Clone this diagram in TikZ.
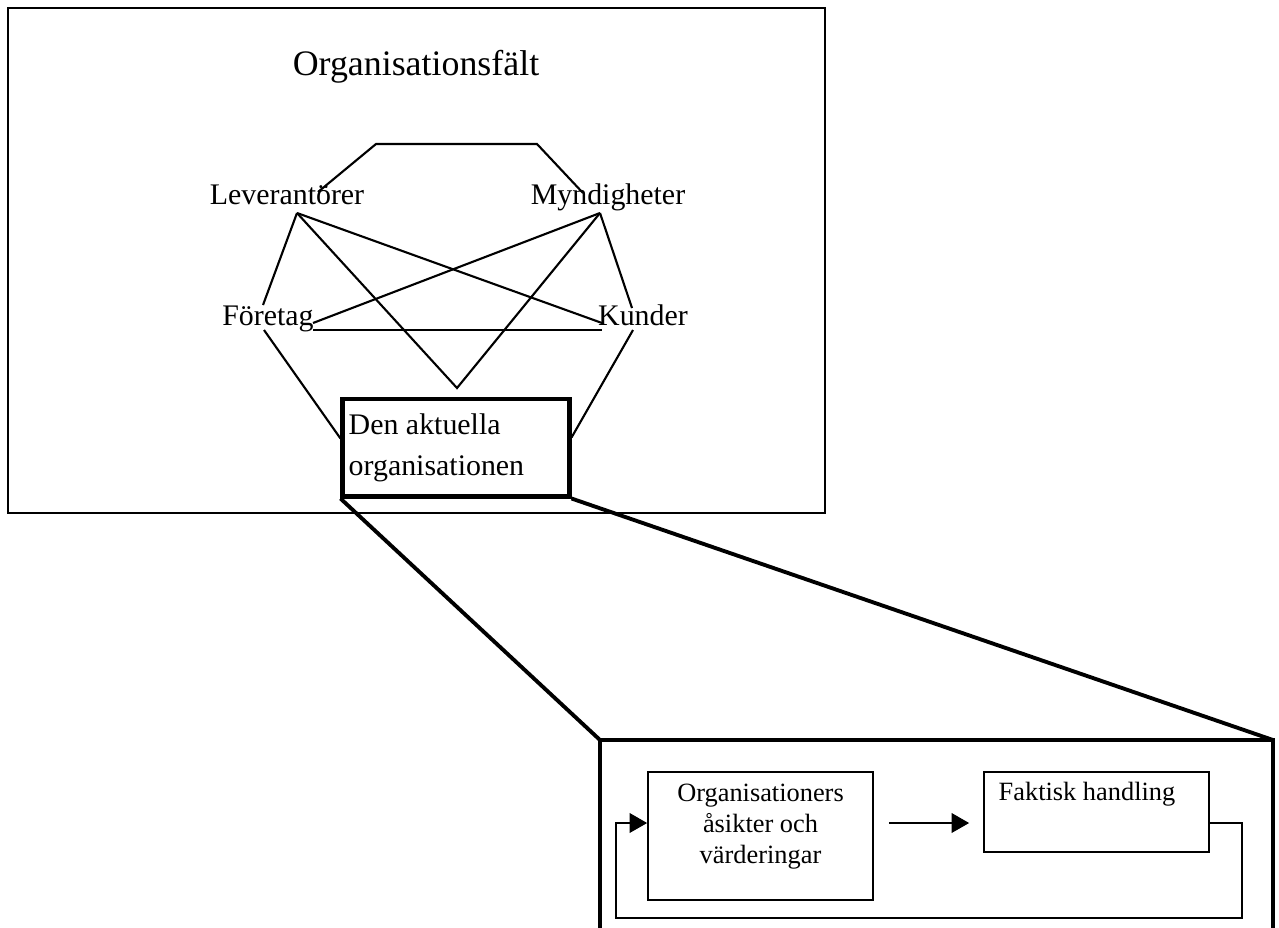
\documentclass[tikz,border=0pt]{standalone}
\usepackage{fontspec}
\setmainfont{Liberation Serif}
\usetikzlibrary{arrows.meta,positioning}

\tikzset{
  fieldtext/.style={font=\fontsize{8.5}{11.4}\selectfont, inner sep=0pt, anchor=base},
  link/.style={line width=0.6pt},
  thickbox/.style={line width=1.4pt},
  zoomline/.style={line width=1.1pt},
  smallbox/.style={draw, line width=0.45pt, inner sep=0pt},
  smalltext/.style={font=\fontsize{7.5}{8.8}\selectfont, inner sep=0pt},
  flowarrow/.style={line width=0.45pt, -{Triangle[length=5pt,width=5.6pt]}},
}

\begin{document}
\begin{tikzpicture}[x=0.01cm, y=-0.01cm]
    \useasboundingbox (0,0) rectangle (1279,927);
    \clip (0,0) rectangle (1279,927);
    % organisationsfaltet
    \draw[line width=0.45pt] (8,8) rectangle (825,513);
    \node[font=\fontsize{10.2}{12}\selectfont, inner sep=0pt, anchor=base] (title) at (416,75) {Organisationsfält};
    \node[fieldtext] (lev) at (287,204) {Leverantörer};
    \node[fieldtext] (myn) at (608,204) {Myndigheter};
    \node[fieldtext] (foretag) at (268,325) {Företag};
    \node[fieldtext] (kunder) at (643,325) {Kunder};
    \node[draw, thickbox, minimum width=2.26cm, minimum height=0.97cm, inner sep=0pt] (org) at (456,447.5) {};
    \node[fieldtext, align=left, anchor=base west] (orgtext) at (348,475) {Den aktuella\\organisationen};
    \coordinate (levT) at (318,192);
    \coordinate (levA) at (297,213);
    \coordinate (mynT) at (583,193);
    \coordinate (mynA) at (600,213);
    \coordinate (vtip) at (457,388);
    \coordinate (forT) at (263,305);
    \coordinate (forR) at (313,323);
    \coordinate (forE) at (313,330);
    \coordinate (forB) at (264,330);
    \coordinate (kunL) at (602,323);
    \coordinate (kunW) at (602,330);
    \coordinate (kunT) at (632,308);
    \coordinate (kunB) at (633,330);
    \draw[link] (levT) -- (376,144) -- (537,144) -- (mynT);
    \draw[link] (levA) -- (forT);
    \draw[link] (levA) -- (kunL);
    \draw[link] (levA) -- (vtip) -- (mynA);
    \draw[link] (mynA) -- (forR);
    \draw[link] (mynA) -- (kunT);
    \draw[link] (forE) -- (kunW);
    \draw[link] (forB) -- ([yshift=0.09cm]org.west);
    \draw[link] (kunB) -- ([yshift=0.1cm]org.east);
    % inzoomad organisation
    \coordinate (zoomNW) at (600,740);
    \coordinate (zoomNE) at (1273,740);
    \draw[thickbox] (600,940) -- (zoomNW) -- (zoomNE) -- (1273,940);
    \draw[zoomline] (org.south west) -- (zoomNW);
    \draw[zoomline] (org.south east) -- (zoomNE);
    \node[smallbox, minimum width=2.25cm, minimum height=1.28cm] (asikt) at (760.5,836) {};
    \node[smalltext, align=center, anchor=base] (asikttext) at (760.5,863) {Organisationers\\åsikter och\\värderingar};
    \node[smallbox, minimum width=2.25cm, minimum height=0.8cm] (handling) at (1096.5,812) {};
    \node[smalltext, anchor=base west] (handlingtext) at (998,800) {Faktisk handling};
    \coordinate (a1) at ([yshift=0.13cm]asikt.east);
    \draw[flowarrow, shorten <=0.15cm, shorten >=0.14cm] (a1) -- (a1 -| handling.west);
    \draw[flowarrow] ([yshift=-0.11cm]handling.east) -- ++(32,0) |- (616,918) |- (a1 -| asikt.west);
\end{tikzpicture}
\end{document}
